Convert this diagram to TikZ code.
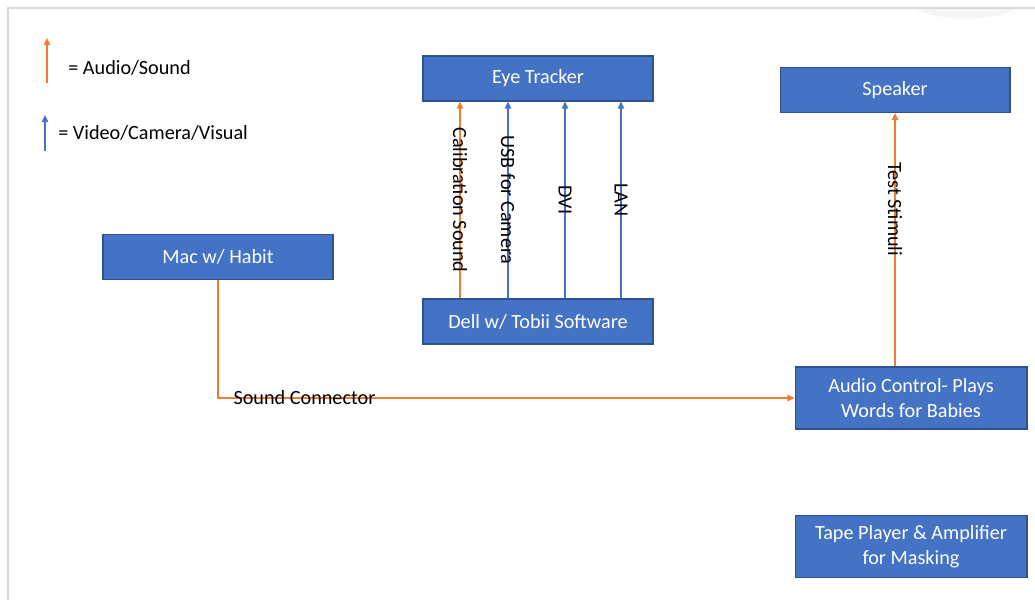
\documentclass[tikz,border=0pt]{standalone}
\usepackage{fontspec}
\setmainfont{Carlito}
\usetikzlibrary{arrows.meta}
\definecolor{boxblue}{HTML}{4472C4}
\definecolor{boxedge}{HTML}{2F528F}
\definecolor{sndorange}{HTML}{ED7D31}
\definecolor{vidblue}{HTML}{4472C4}
\tikzset{%
	block/.style    = {draw=boxedge, fill=boxblue, text=white, rectangle, line width=0.6pt,
		minimum height = 0.9cm, minimum width = 4.6cm, align=center,
		font=\fontsize{11.5}{14.2}\selectfont},
	tallblock/.style = {block, minimum height = 1.24cm, minimum width = 4.64cm},
	sound/.style    = {draw=sndorange, line width=0.8pt, -{Triangle[length=4pt,width=3.6pt]}},
	video/.style    = {draw=vidblue, line width=0.8pt, -{Triangle[length=4pt,width=3.6pt]}},
	wire/.style     = {font=\fontsize{11.5}{14}\selectfont, inner sep=0pt} % Label
}

\begin{document}
\begin{tikzpicture}[x=0.02cm, y=-0.02cm]
			\useasboundingbox (0,0) rectangle (1035,600);
			% frame
			\fill[black!4] (915,8) .. controls (935,22) and (1000,22) .. (1015,8) -- cycle;
			\draw[black!15, line width=0.8pt] (8,600) -- (8,8) -- (1035,8);

			% legend
			\coordinate (la0) at (47,83);
			\coordinate (la1) at (47,38);
			\coordinate (lv0) at (45,151);
			\coordinate (lv1) at (45,115);
			\draw[sound] (la0) -- (la1);
			\draw[video] (lv0) -- (lv1);
			\node[wire, anchor=west] (audiokey) at (68,68) {= Audio/Sound};
			\node[wire, anchor=west] (videokey) at (58,133) {= Video/Camera/Visual};

			% boxes
			\node[block] (eye) at (538,78.5) {Eye Tracker};
			\node[block] (speaker) at (895,90) {Speaker};
			\node[block] (mac) at (218,257) {Mac w/ Habit};
			\node[block] (dell) at (538,321.5) {Dell w/ Tobii Software};
			\node[tallblock] (audio) at (911,398) {Audio Control- Plays\\Words for Babies};
			\node[tallblock] (tape) at (911,546.5) {Tape Player \& Amplifier\\for Masking};

			% links to eye tracker
			\foreach \x/\lbl/\kind in {460/Calibration Sound/sound, 508/USB for Camera/video,
				565/DVI/video, 621/LAN/video}
			{
				\coordinate (c) at (\x,0);
				\draw[\kind] (c |- dell.north) -- node[wire, rotate=-90, text=black] {\lbl} (c |- eye.south);
			}

			\draw[sound] (speaker.south |- audio.north) -- node[wire, pos=0.62, rotate=-90] {Test Stimuli} (speaker.south);
			\draw[sound] (mac.south) |- node[wire, pos=0.575] {Sound Connector} (audio.west);
		\end{tikzpicture}
\end{document}
